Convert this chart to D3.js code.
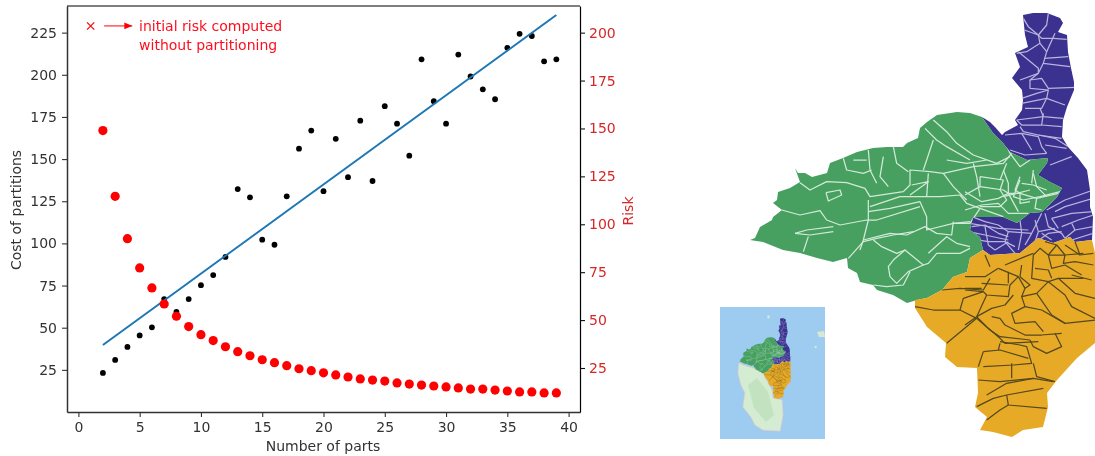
<!DOCTYPE html>
<html>
<head>
<meta charset="utf-8">
<script src="https://cdn.jsdelivr.net/npm/d3@7"></script>
<style>
  html, body { margin: 0; padding: 0; background: #fff; }
  svg { display: block; }
  text { font-family: "DejaVu Sans", sans-serif; }
</style>
</head>
<body>
<div id="chart-area"></div>
<script>
// chart values
var parts = d3.range(2, 40);
var costs = [23.2, 30.9, 38.6, 45.4, 50.2, 67, 59.4, 67, 75.2, 81.2, 92, 132.2, 127.3, 102.2, 99.2, 127.9, 156.2, 166.9, 131,
  162, 139.3, 172.8, 137, 181.4, 171, 152, 209.2, 184.3, 171, 212, 199, 191.4, 185.5, 216, 224.3, 223, 208, 209.2];
var risks = [148.9, 114.6, 92.5, 77.2, 66.8, 58.4, 52, 46.6, 42.4, 39.3, 36.1, 33.5, 31.4, 29.3, 27.8, 26.2, 24.6, 23.6, 22.5,
  21.4, 20.3, 19.3, 18.7, 18.2, 17.2, 16.6, 16.1, 15.6, 15.1, 14.6, 14, 14, 13.5, 13, 12.5, 12.5, 12, 12];
var fitParts = [2, 39];
var fitCosts = [39.7, 235.5];
var initialRisk = { part: 1, risk: 203.5 };
var xTicks = [0, 5, 10, 15, 20, 25, 30, 35, 40];
var costTicks = [25, 50, 75, 100, 125, 150, 175, 200, 225];
var riskTicks = [25, 50, 75, 100, 125, 150, 175, 200];
var noteLines = ['initial risk computed', 'without partitioning'];

// map outlines, map units
var purpleOutline = [[1023,15],[1033,13],[1047,13],[1060,18],[1063,23],[1058,32],[1067,35],[1068,52],[1071,68],[1074,82],[1074,90],
  [1067,107],[1063,120],[1062,137],[1068,147],[1078,158],[1087,170],[1090,190],[1090,207],[1093,217],[1092,240],
  [1075,242],[1070,237],[1053,243],[1038,238],[1020,253],[990,255],[983,250],[980,237],[970,230],[973,217],[1003,217],[1017,223],
  [1030,213],[1042,212],[1047,207],[1057,197],[1062,188],[1050,182],[1038,175],[1047,163],[1048,158],[1027,160],[1010,152],
  [1003,143],[993,133],[982,117],[990,122],[995,127],[1002,135],[1005,132],[1018,125],[1015,120],[1022,110],[1023,100],[1022,90],
  [1012,78],[1020,67],[1015,53],[1028,47],[1025,35]];
var greenOutline = [[982,117],[970,113],[957,112],[937,115],[927,122],[920,128],[918,138],[907,143],[903,147],[887,147],[873,148],
  [857,152],[843,158],[830,163],[827,173],[812,177],[805,173],[798,173],[795,168],[800,182],[790,188],[778,192],[777,200],[773,203],
  [782,210],[773,217],[772,220],[760,227],[755,238],[750,240],[763,242],[783,250],[800,253],[817,258],[833,262],[847,258],[848,268],
  [857,273],[860,282],[873,285],[877,290],[893,295],[907,303],[917,300],[927,298],[942,290],[953,277],[967,272],[970,258],[983,250],
  [980,237],[970,230],[973,217],[1003,217],[1017,223],[1030,213],[1042,212],[1047,207],[1057,197],[1062,188],[1050,182],[1038,175],
  [1047,163],[1048,158],[1027,160],[1010,152],[1003,143],[993,133]];
var orangeOutline = [[1092,240],[1095,253],[1095,343],[1077,358],[1057,380],[1047,393],[1048,407],[1043,427],[1023,430],[1012,437],
  [993,432],[980,430],[987,417],[975,407],[978,393],[977,368],[957,367],[945,357],[946,343],[927,327],[915,308],[915,300],[927,298],
  [942,290],[953,277],[967,272],[970,258],[983,250],[990,255],[1020,253],[1038,238],[1053,243],[1070,237],[1075,242]];
var southCorsica = [[739,363],[738,373],[741,385],[745,393],[743,407],[751,417],[755,425],[763,430],[780,431],[783,415],[782,400],
  [773,398],[772,390],[765,377],[763,373],[753,368],[743,365]];
var southCorsicaHills = [[748,385],[757,378],[768,392],[774,415],[766,422],[754,408]];
var islands = [[[767,316],[769,315],[770,317],[768,319]],[[817,332],[824,331],[825,337],[819,337]],[[814,346],[817,346],[816,349]]];

// district borders, traced per sheet
var greenWest = [
  [[180,548],[210,570],[260,545],[320,548],[375,565],[390,590],[490,575],[510,555],[510,510],[570,515],[610,520],[700,500],[790,490],[815,460]],
  [[390,620],[480,590],[540,590],[600,590],[660,585],[680,610],[720,625],[790,650]],
  [[385,635],[450,625],[540,605],[560,650],[560,690],[640,670],[690,665]],
  [[125,630],[180,645],[240,632],[260,660],[300,675],[380,660],[410,660],[540,620]],
  [[165,700],[200,690],[280,680]],
  [[385,600],[385,660],[370,720],[360,750]],
  [[370,720],[450,700],[500,705],[555,680],[590,700],[635,705],[640,665]],
  [[580,360],[620,395],[650,430],[700,465],[770,490],[810,470]],
  [[555,385],[590,420],[620,440],[690,480]],
  [[580,420],[560,480],[550,510]],
  [[620,480],[680,490],[740,480]],
  [[610,520],[640,560],[680,600]],
  [[720,530],[790,540],[780,570],[800,600],[780,620],[720,620]],
  [[565,520],[560,590]],
  [[515,555],[565,545],[510,585]],
  [[460,440],[470,490],[505,515]],
  [[430,470],[420,530],[445,560]],
  [[385,450],[390,510],[410,550]],
  [[310,475],[320,510],[370,520],[395,510]],
  [[340,480],[380,480]],
  [[258,578],[300,570],[305,585],[265,603],[258,578]],
  [[790,415],[810,460],[840,500],[870,480]],
  [[800,490],[780,540]],
  [[840,540],[820,590],[850,600],[900,590],[960,575]],
  [[880,520],[890,560],[920,590]],
  [[700,490],[710,530],[720,590]],
  [[790,590],[830,580],[870,570]],
  [[640,670],[690,670],[720,625]]
];
var greenSouth = [
  [[325,20],[310,65]],
  [[285,10],[330,15],[400,5]],
  [[445,85],[490,35],[530,25],[580,15],[640,5]],
  [[520,30],[545,50],[590,70],[615,60],[670,105],[685,100],[710,70],[780,70],[810,55]],
  [[615,60],[580,90],[565,110],[570,140],[590,160],[625,125],[670,105]],
  [[685,70],[740,20],[770,40],[810,50]],
  [[630,125],[610,165],[560,170],[520,165]]
];
var greenEast = [
  [[0,65],[50,95],[100,85],[130,70]],
  [[45,20],[45,50],[0,75]],
  [[45,50],[115,60],[130,70]],
  [[130,70],[165,70],[215,85],[280,70]],
  [[115,0],[130,40],[130,70]],
  [[130,70],[160,125]],
  [[0,120],[50,105],[100,100],[130,130],[190,130]],
  [[165,20],[150,60],[165,70]],
  [[170,40],[205,45],[245,60]],
  [[205,0],[200,40]],
  [[215,85],[210,115],[230,120]],
  [[165,70],[165,100],[195,95]]
];
var purpleCape = [
  [[55,25],[70,50],[100,75],[125,45],[130,10]],
  [[58,60],[100,75],[110,85],[145,85],[185,88]],
  [[100,75],[105,100],[65,125],[35,130]],
  [[105,100],[125,125],[115,160],[195,170]],
  [[125,125],[150,70]],
  [[118,145],[190,140]],
  [[40,125],[100,175],[100,190],[45,210]],
  [[115,160],[100,190],[75,210],[110,205],[130,235],[210,232]],
  [[75,210],[75,235],[130,240]],
  [[50,265],[95,250],[130,240],[125,265],[50,280]],
  [[125,265],[110,295],[60,295]],
  [[125,265],[180,285]],
  [[105,295],[115,320],[175,325]],
  [[115,310],[110,345],[50,345],[35,330]],
  [[115,320],[35,330]],
  [[110,345],[170,350]],
  [[45,350],[55,365],[100,375],[170,385]],
  [[0,375],[50,370],[100,380],[110,410],[125,430]],
  [[50,370],[80,420]],
  [[100,375],[150,385],[190,410]],
  [[120,405],[185,415]],
  [[15,420],[60,435],[125,430]],
  [[135,465],[200,440]]
];
var purpleSouth = [
  [[385,60],[300,90],[245,120]],
  [[385,85],[300,110],[270,125]],
  [[385,125],[320,130],[260,145]],
  [[385,135],[340,150],[290,170]],
  [[385,170],[330,180]],
  [[385,190],[320,210]],
  [[20,140],[60,155],[100,165],[130,185],[200,190],[230,130]],
  [[20,170],[60,165],[100,190],[130,200]],
  [[60,170],[70,225],[90,240]],
  [[10,205],[70,215],[120,215],[150,230]],
  [[130,185],[120,215],[150,250]],
  [[200,190],[180,225]],
  [[210,150],[220,185],[210,215]],
  [[240,130],[250,170],[290,190],[300,205]],
  [[220,185],[270,175]],
  [[260,145],[280,175]],
  [[300,205],[330,180],[320,160]],
  [[90,240],[130,215]],
  [[230,190],[260,210]],
  [[165,150],[170,190]],
  [[15,160],[100,175],[190,180]],
  [[10,185],[60,195],[130,210]],
  [[170,190],[160,240]],
  [[215,215],[250,190],[290,185]]
];
var orangeSouth = [
  [[645,230],[700,240],[780,240],[830,265],[740,340]],
  [[830,265],[870,300],[900,320],[990,330]],
  [[780,240],[790,205],[850,185]],
  [[725,180],[780,175],[850,180],[870,145]],
  [[990,330],[1000,350],[1040,370],[1085,350],[1065,310]],
  [[900,335],[960,345],[980,350],[995,400],[940,405],[850,410]],
  [[850,365],[900,360],[985,385]],
  [[900,340],[895,360]],
  [[850,365],[835,410]],
  [[835,450],[900,455],[1000,445],[1060,455]],
  [[935,400],[935,445]],
  [[1000,400],[1010,440],[1065,455]],
  [[860,495],[920,460],[1000,445]],
  [[830,530],[880,505],[920,495],[1030,475]],
  [[920,495],[925,525],[1040,535]],
  [[860,570],[900,540],[925,525]]
];
var orangeNorth = [
  [[100,100],[160,125],[180,160],[170,185],[215,175],[250,140],[280,130],[355,130]],
  [[0,165],[55,170],[65,180],[130,185],[135,150],[160,125]],
  [[65,180],[35,245],[0,270]],
  [[35,245],[80,220],[120,210],[145,180]],
  [[170,185],[180,215],[140,235],[150,265],[210,260],[235,290]],
  [[215,175],[260,240],[300,265],[390,255]],
  [[250,140],[300,180],[320,215],[390,250]],
  [[280,130],[330,175],[390,190]],
  [[35,245],[70,280],[105,310],[120,325],[220,320]],
  [[80,245],[105,250],[120,270],[180,300],[230,300],[290,295]],
  [[180,215],[230,225],[300,265]],
  [[170,90],[165,125]],
  [[205,60],[200,130],[250,140]],
  [[250,60],[260,100],[300,90],[350,120]],
  [[205,60],[225,40],[250,60],[275,30],[240,20]],
  [[300,60],[295,85],[330,80],[385,90]],
  [[60,60],[75,95]],
  [[120,90],[180,65],[205,55]],
  [[130,110],[130,145]],
  [[0,125],[60,125],[100,100]],
  [[0,160],[50,160]],
  [[50,145],[130,150]],
  [[165,125],[195,150],[180,160]],
  [[300,30],[345,60],[385,55]],
  [[275,30],[300,60]],
  [[330,20],[345,60]],
  [[210,100],[250,105],[260,130]],
  [[320,120],[380,135]],
  [[250,60],[300,60],[355,55]]
];

// trace sheets to map units
function sheet(left, top) {
  return function(line) {
    return line.map(function(p) { return [left + p[0] / 3, top + p[1] / 3]; });
  };
}

var regions = [
  { id: 'purple', outline: purpleOutline, fill: '#3b3190', border: '#b9b4dc',
    roads: purpleCape.map(sheet(1005, 10)).concat(purpleSouth.map(sheet(965, 170))) },
  { id: 'green', outline: greenOutline, fill: '#46a061', border: '#d3e9d8',
    roads: greenWest.map(sheet(740, 0)).concat(greenSouth.map(sheet(700, 230)), greenEast.map(sheet(965, 170))) },
  { id: 'orange', outline: orangeOutline, fill: '#e6aa28', border: '#54481f',
    roads: orangeSouth.map(sheet(700, 230)).concat(orangeNorth.map(sheet(965, 235))) }
];

var svg = d3.select('#chart-area')
  .append('svg')
  .attr('width', 1095)
  .attr('height', 456);

var defs = svg.append('defs');
defs.append('filter').attr('id', 'soft').append('feGaussianBlur').attr('stdDeviation', 0.35);
defs.append('filter').attr('id', 'softer').append('feGaussianBlur').attr('stdDeviation', 0.6);
defs.append('marker')
  .attr('id', 'head')
  .attr('viewBox', '0 0 8 8')
  .attr('refX', 8)
  .attr('refY', 4)
  .attr('markerUnits', 'userSpaceOnUse')
  .attr('markerWidth', 8)
  .attr('markerHeight', 8)
  .attr('orient', 'auto')
  .append('path')
    .attr('d', 'M0,0.6L8,4L0,7.4Z')
    .attr('fill', '#ff0000');

// Scales
var x = d3.scaleLinear().domain([-0.93, 40.93]).range([67, 580]);
var yCost = d3.scaleLinear().domain([0, 240.8]).range([412, 6]);
var yRisk = d3.scaleLinear().domain([2.04, 213.9]).range([412, 6]);

var chart = svg.append('g').attr('filter', 'url(#soft)');

// Points first, spines above
var plot = chart.append('g');

plot.selectAll('.cost')
  .data(parts)
  .enter().append('circle')
    .attr('class', 'cost')
    .attr('cx', function(d) { return x(d); })
    .attr('cy', function(d, i) { return yCost(costs[i]); })
    .attr('r', 2.9)
    .attr('fill', '#000');

var fitLine = d3.line()
  .x(function(d) { return x(d); })
  .y(function(d, i) { return yCost(fitCosts[i]); });

plot.append('path')
  .attr('d', fitLine(fitParts))
  .attr('fill', 'none')
  .attr('stroke', '#1f77b4')
  .attr('stroke-width', 2);

plot.selectAll('.risk')
  .data(parts)
  .enter().append('circle')
    .attr('class', 'risk')
    .attr('cx', function(d) { return x(d); })
    .attr('cy', function(d, i) { return yRisk(risks[i]); })
    .attr('r', 4.6)
    .attr('fill', '#ff0000');

// Initial risk note
plot.append('path')
  .attr('d', d3.symbol(d3.symbolX, 36)())
  .attr('transform', 'translate(' + x(initialRisk.part) + ',' + yRisk(initialRisk.risk) + ')')
  .attr('fill', 'none')
  .attr('stroke', '#ff0000')
  .attr('stroke-width', 1.2);

plot.append('line')
  .attr('x1', x(2.1))
  .attr('x2', x(4.4))
  .attr('y1', yRisk(initialRisk.risk))
  .attr('y2', yRisk(initialRisk.risk))
  .attr('stroke', '#ff0000')
  .attr('stroke-width', 1)
  .attr('marker-end', 'url(#head)');

plot.selectAll('.note')
  .data(noteLines)
  .enter().append('text')
    .attr('class', 'note')
    .attr('x', x(4.95))
    .attr('y', function(d, i) { return yRisk(initialRisk.risk) + 5 + i * 19; })
    .attr('font-size', '14px')
    .attr('fill', '#ff0f1f')
    .text(function(d) { return d; });

// Axes
function styleAxis(axis, spine, tickColour, textColour) {
  axis.selectAll('.domain').attr('stroke', spine.colour).attr('stroke-width', spine.width);
  axis.selectAll('.tick line').attr('stroke', tickColour).attr('stroke-width', 1.1);
  axis.selectAll('.tick text').attr('fill', textColour).attr('font-size', '14px').attr('font-family', '"DejaVu Sans", sans-serif');
}

var xAxisGroup = chart.append('g')
  .attr('transform', 'translate(0, 412)')
  .call(d3.axisBottom(x).tickValues(xTicks).tickSizeInner(5).tickSizeOuter(0).tickPadding(5));
styleAxis(xAxisGroup, { colour: '#333', width: 1.5 }, '#333', '#333');

var costAxisGroup = chart.append('g')
  .attr('transform', 'translate(67, 0)')
  .call(d3.axisLeft(yCost).tickValues(costTicks).tickSizeInner(5).tickSizeOuter(0).tickPadding(5));
styleAxis(costAxisGroup, { colour: '#333', width: 1.5 }, '#333', '#333');

var riskAxisGroup = chart.append('g')
  .attr('transform', 'translate(580, 0)')
  .call(d3.axisRight(yRisk).tickValues(riskTicks).tickSizeInner(5).tickSizeOuter(0).tickPadding(4));
styleAxis(riskAxisGroup, { colour: '#000', width: 1.2 }, '#111', '#d62728');

chart.append('line')
  .attr('x1', x.range()[0])
  .attr('x2', x.range()[1])
  .attr('y1', yCost.range()[1])
  .attr('y2', yCost.range()[1])
  .attr('stroke', '#000')
  .attr('stroke-width', 1.2);

// Axis labels
chart.append('text')
  .attr('x', 323)
  .attr('y', 451)
  .attr('font-size', '14px')
  .attr('fill', '#333')
  .attr('text-anchor', 'middle')
  .text('Number of parts');

chart.append('text')
  .attr('x', -210)
  .attr('y', 21)
  .attr('font-size', '14px')
  .attr('fill', '#333')
  .attr('text-anchor', 'middle')
  .attr('transform', 'rotate(-90)')
  .text('Cost of partitions');

chart.append('text')
  .attr('x', -211)
  .attr('y', 633)
  .attr('font-size', '14px')
  .attr('fill', '#d62728')
  .attr('text-anchor', 'middle')
  .attr('transform', 'rotate(-90)')
  .text('Risk');

// Maps
var mainX = d3.scaleIdentity();
var mainY = d3.scaleIdentity();
var insetX = d3.scaleLinear().domain([750, 1095]).range([739.3, 790.7]);
var insetY = d3.scaleLinear().domain([13, 438]).range([318.3, 399.3]);

function drawRegions(target, xs, ys, name, borderWidth) {
  var outline = d3.line().x(function(d) { return xs(d[0]); }).y(function(d) { return ys(d[1]); }).curve(d3.curveLinearClosed);
  var road = d3.line().x(function(d) { return xs(d[0]); }).y(function(d) { return ys(d[1]); });

  regions.forEach(function(region) {
    defs.append('clipPath')
      .attr('id', name + '-' + region.id)
      .append('path')
        .attr('d', outline(region.outline));

    var group = target.append('g');

    group.append('path')
      .attr('d', outline(region.outline))
      .attr('fill', region.fill);

    group.append('g')
      .attr('clip-path', 'url(#' + name + '-' + region.id + ')')
      .selectAll('path')
      .data(region.roads)
      .enter().append('path')
        .attr('d', road)
        .attr('fill', 'none')
        .attr('stroke', region.border)
        .attr('stroke-width', borderWidth)
        .attr('stroke-linejoin', 'round');
  });
}

var inset = svg.append('g').attr('filter', 'url(#softer)');

inset.append('rect')
  .attr('x', 720)
  .attr('y', 307)
  .attr('width', 105)
  .attr('height', 132)
  .attr('fill', '#9ecbf0');

var plainOutline = d3.line().curve(d3.curveLinearClosed);

inset.append('path')
  .attr('d', plainOutline(southCorsica))
  .attr('fill', '#d4ecd2')
  .attr('stroke', '#e8cfc8')
  .attr('stroke-width', 0.7);

inset.append('path')
  .attr('d', plainOutline(southCorsicaHills))
  .attr('fill', '#c3e3c0');

inset.selectAll('.island')
  .data(islands)
  .enter().append('path')
    .attr('class', 'island')
    .attr('d', plainOutline)
    .attr('fill', '#d9e8cf');

drawRegions(inset, insetX, insetY, 'inset', 0.25);

var mainMap = svg.append('g').attr('filter', 'url(#soft)');
drawRegions(mainMap, mainX, mainY, 'main', 1.25);
</script>
</body>
</html>
